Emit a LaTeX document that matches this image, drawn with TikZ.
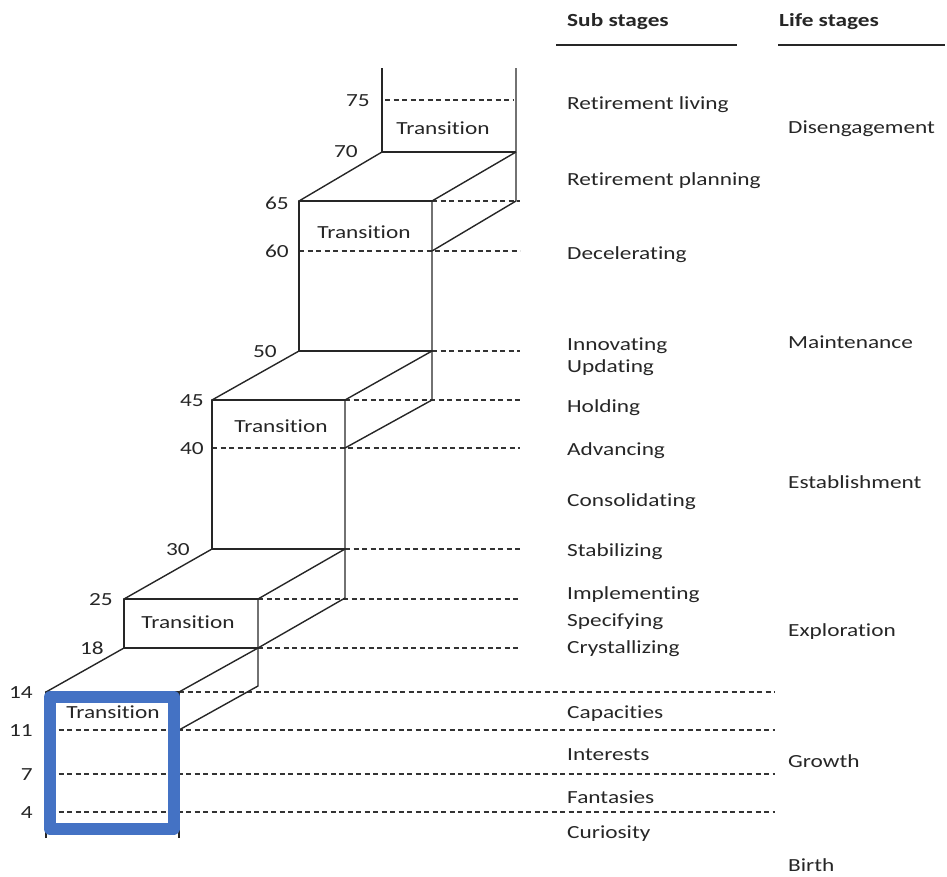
\documentclass[tikz,border=0pt]{standalone}
\usepackage{fontspec}
\setmainfont[FakeStretch=1.26, RawFeature={-liga}]{Carlito}
\begin{document}
\begin{tikzpicture}[x=1pt,y=-1pt,
  edge/.style={line width=1.4pt, black!85, line join=round},
  guide/.style={line width=1.1pt, black!80, dash pattern=on 5pt off 3.5pt},
  txt/.style={font=\fontsize{18.5}{18.5}\selectfont, text=black!85, inner sep=0pt,
    text height=12.5pt, text depth=3.5pt, yshift=-1.5pt},
  stage/.style={txt, anchor=west},
  age/.style={txt, anchor=east},
  head/.style={txt, anchor=west, font=\fontsize{18.5}{18.5}\selectfont\bfseries},
  frame/.style={line width=12pt, draw={rgb,255:red,68;green,114;blue,196}, line join=round}]
\useasboundingbox (0,0) rectangle (947,876);

% ---- column headings ----
\node[head] (hsub) at (567,20) {Sub stages};
\node[head] (hlife) at (779,20) {Life stages};
\draw[line width=1.3pt, black!85] (556,45) -- (737,45);
\draw[line width=1.3pt, black!85] (778,45) -- (945,45);

% ---- age guide lines ----
\draw[guide] (385,100) -- (514,100);
\draw[guide] (432,201) -- (520,201);
\draw[guide] (299,251) -- (520,251);
\draw[guide] (432,351) -- (520,351);
\draw[guide] (345,400) -- (520,400);
\draw[guide] (212,448) -- (520,448);
\draw[guide] (345,549) -- (520,549);
\draw[guide] (258,599) -- (520,599);
\draw[guide] (258,648) -- (520,648);
\draw[guide] (179,692) -- (775,692);
\draw[guide] (50,730) -- (775,730);
\draw[guide] (50,774) -- (775,774);
\draw[guide] (50,812) -- (775,812);

% ---- staircase ----
% step 1 (ages 4-14)
\draw[edge] (46,838) -- (46,692) -- (179,692) -- (179,838);
\draw[edge] (46,692) -- (124,648);
\draw[edge] (179,692) -- (258,648);
\draw[edge] (179,730) -- (258,686) -- (258,599);
% step 2 (ages 18-25)
\draw[edge] (124,648) -- (124,599) -- (258,599);
\draw[edge] (124,648) -- (258,648);
\draw[edge] (124,599) -- (212,549);
\draw[edge] (258,599) -- (345,549);
\draw[edge] (258,648) -- (345,598) -- (345,400);
% step 3 (ages 30-45)
\draw[edge] (212,549) -- (212,400) -- (345,400);
\draw[edge] (212,549) -- (345,549);
\draw[edge] (212,400) -- (299,351);
\draw[edge] (345,400) -- (432,351);
\draw[edge] (345,448) -- (432,400) -- (432,201);
% step 4 (ages 50-65)
\draw[edge] (299,351) -- (299,201) -- (432,201);
\draw[edge] (299,351) -- (432,351);
\draw[edge] (299,201) -- (382,152);
\draw[edge] (432,201) -- (516,152);
\draw[edge] (432,251) -- (516,201) -- (516,68);
% top (ages 70+)
\draw[edge] (382,68) -- (382,152) -- (516,152);

% highlight around the first step
\draw[frame] (50,697) rectangle (173.5,828.5);

% ---- transition labels ----
\node[txt] (t1) at (113,712) {Transition};
\node[txt] (t2) at (188,622) {Transition};
\node[txt] (t3) at (281,426) {Transition};
\node[txt] (t4) at (364,232) {Transition};
\node[txt] (t5) at (443,128) {Transition};

% ---- ages ----
\node[age] (a75) at (370,100) {75};
\node[age] (a70) at (358,151) {70};
\node[age] (a65) at (289,203) {65};
\node[age] (a60) at (289,251) {60};
\node[age] (a50) at (277,351) {50};
\node[age] (a45) at (204,400) {45};
\node[age] (a40) at (204,448) {40};
\node[age] (a30) at (190,549) {30};
\node[age] (a25) at (113,599) {25};
\node[age] (a18) at (104,648) {18};
\node[age] (a14) at (33,692) {14};
\node[age] (a11) at (33,730) {11};
\node[age] (a7) at (33,774) {7};
\node[age] (a4) at (33,812) {4};

% ---- sub stages ----
\node[stage] (s1) at (567,103) {Retirement living};
\node[stage] (s2) at (567,179) {Retirement planning};
\node[stage] (s3) at (567,253) {Decelerating};
\node[stage] (s4) at (567,344) {Innovating};
\node[stage] (s5) at (567,366) {Updating};
\node[stage] (s6) at (567,406) {Holding};
\node[stage] (s7) at (567,449) {Advancing};
\node[stage] (s8) at (567,500) {Consolidating};
\node[stage] (s9) at (567,550) {Stabilizing};
\node[stage] (s10) at (567,593) {Implementing};
\node[stage] (s11) at (567,620) {Specifying};
\node[stage] (s12) at (567,647) {Crystallizing};
\node[stage] (s13) at (567,712) {Capacities};
\node[stage] (s14) at (567,754) {Interests};
\node[stage] (s15) at (567,797) {Fantasies};
\node[stage] (s16) at (567,832) {Curiosity};

% ---- life stages ----
\node[stage] (l1) at (788,127) {Disengagement};
\node[stage] (l2) at (788,342) {Maintenance};
\node[stage] (l3) at (788,482) {Establishment};
\node[stage] (l4) at (788,630) {Exploration};
\node[stage] (l5) at (788,761) {Growth};
\node[stage] (l6) at (788,865) {Birth};
\end{tikzpicture}
\end{document}
